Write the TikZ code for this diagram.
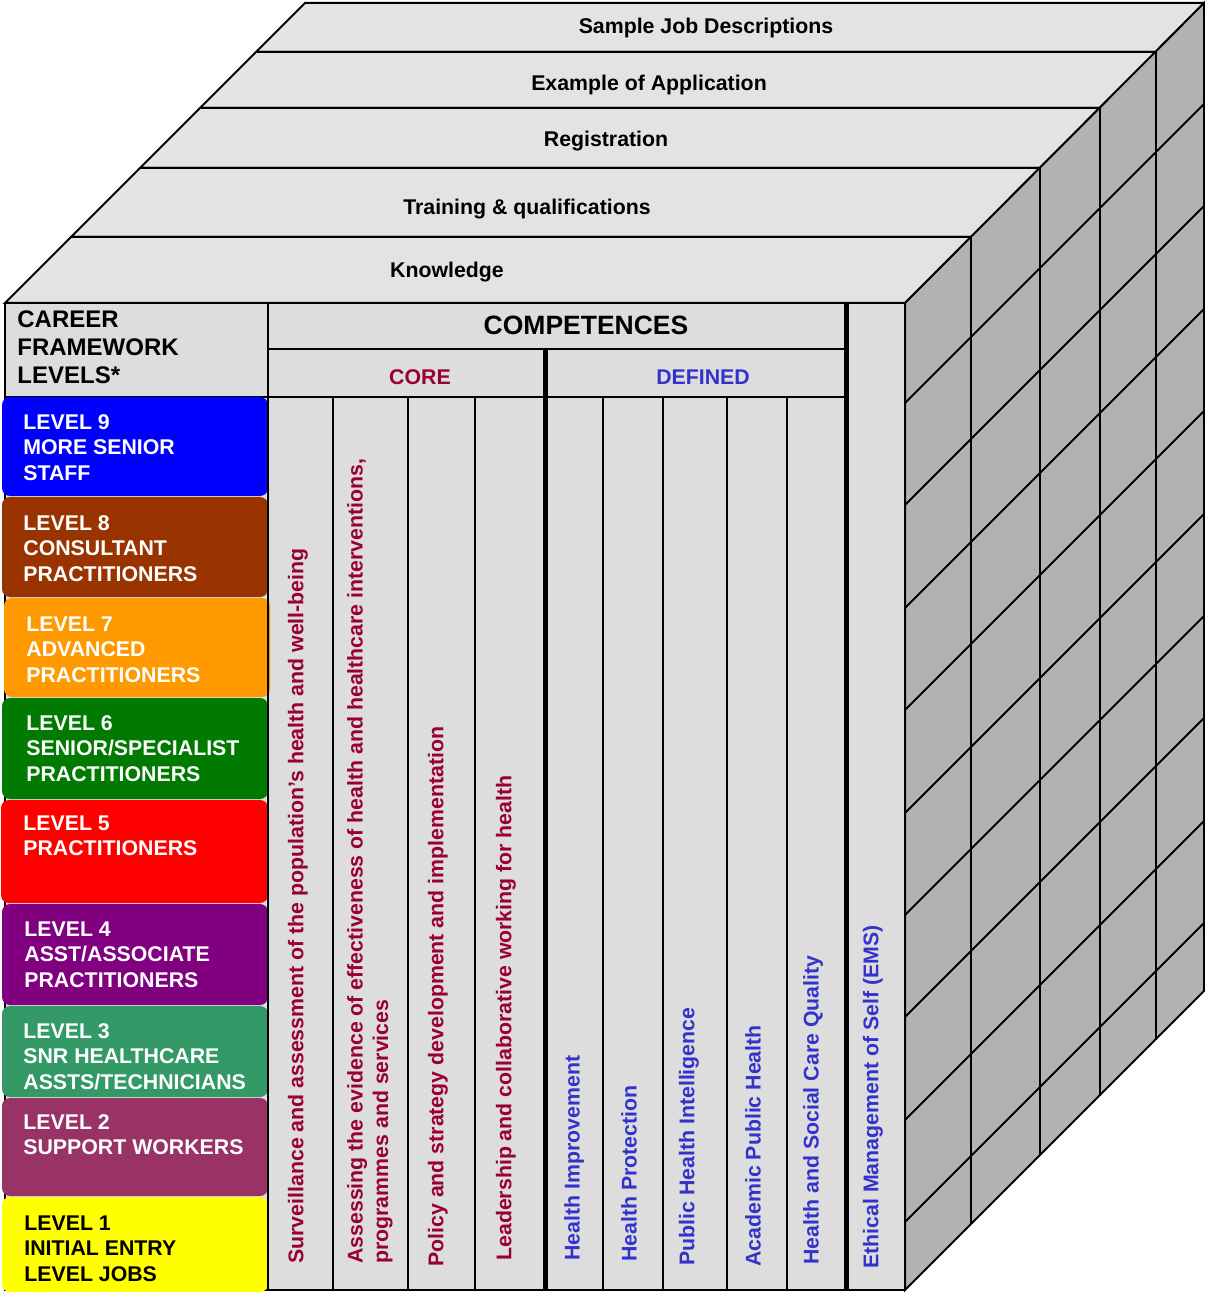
\documentclass[tikz,border=0pt]{standalone}
\usepackage{fontspec}
\setmainfont{Liberation Sans}
\usepackage{xcolor}

\definecolor{topgray}{HTML}{E3E3E3}
\definecolor{frontgray}{HTML}{DDDDDD}
\definecolor{sidegray}{HTML}{B2B2B2}
\definecolor{corered}{HTML}{990033}
\definecolor{defblue}{HTML}{3333CC}
\definecolor{lvlnine}{HTML}{0000FF}
\definecolor{lvleight}{HTML}{993300}
\definecolor{lvlseven}{HTML}{FF9900}
\definecolor{lvlsix}{HTML}{007A00}
\definecolor{lvlfive}{HTML}{FF0000}
\definecolor{lvlfour}{HTML}{800080}
\definecolor{lvlthree}{HTML}{339966}
\definecolor{lvltwo}{HTML}{993366}
\definecolor{lvlone}{HTML}{FFFF00}

\begin{document}
\begin{tikzpicture}[x=0.5pt, y=-0.5pt,
        font=\bfseries\fontsize{10.65}{12.75}\selectfont,
        layer/.style={draw=black, fill=topgray, line width=1pt},
        levelbox/.style={rounded corners=4pt},
        leveltext/.style={anchor=north west, inner sep=0pt, align=left, text=white},
        coltext/.style={rotate=90, anchor=west, inner sep=0pt, align=left},
        thin/.style={line width=1pt},
        thickrule/.style={line width=2.5pt}]
    \useasboundingbox (0,0) rectangle (1204,1293);

    % top of the cube
    \draw[layer] (305,3) -- (1204,3) -- (1156,52) -- (256,52) -- cycle;
    \draw[layer] (256,52) -- (1156,52) -- (1100,108) -- (200,108) -- cycle;
    \draw[layer] (200,108) -- (1100,108) -- (1040,168) -- (140,168) -- cycle;
    \draw[layer] (140,168) -- (1040,168) -- (971,237) -- (71,237) -- cycle;
    \draw[layer] (71,237) -- (971,237) -- (905,303) -- (5,303) -- cycle;

    \node (jobs) at (706,28) {Sample Job Descriptions};
    \node (application) at (649,85) {Example of Application};
    \node (registration) at (606,141) {Registration};
    \node (training) at (527,209) {Training \& qualifications};
    \node (knowledge) at (447,272) {Knowledge};

    % side of the cube
    \draw[thin, fill=sidegray] (905,303) -- (1204,3) -- (1204,991) -- (905,1290) -- cycle;
    \draw[thin] (971,237) -- (971,1224);
    \draw[thin] (1040,168) -- (1040,1155);
    \draw[thin] (1100,108) -- (1100,1095);
    \draw[thin] (1156,52) -- (1156,1039);
    \foreach \y in {403,505,608,710,813,915,1017,1120,1222}
        \draw[thin] (905,\y) -- (1204,\y-299);

    % front of the cube
    \draw[thin, fill=frontgray] (5,303) rectangle (905,1290);
    \draw[thin] (268,349) -- (846,349);
    \draw[thin] (5,397) -- (846,397);
    \foreach \x in {333,408,475,603,663,727,787}
        \draw[thin] (\x,397) -- (\x,1290);
    \draw[thickrule] (545,349) -- (545,1290);
    \draw[thickrule] (846,303) -- (846,1290);

    \node[anchor=north west, inner sep=0pt, align=left, font=\bfseries\fontsize{12}{14}\selectfont]
        (career) at (17,310) {CAREER\\FRAMEWORK\\LEVELS*};
    \node[font=\bfseries\fontsize{13.25}{16}\selectfont] (competences) at (586,325) {COMPETENCES};
    \node[text=corered] (core) at (420,377) {CORE};
    \node[text=defblue] (defined) at (703,377) {DEFINED};

    % career levels
    \fill[lvlnine, levelbox] (2,397) rectangle (268,496);
    \fill[lvleight, levelbox] (2,497) rectangle (268,597);
    \fill[lvlseven, levelbox] (4,598) rectangle (270,697);
    \fill[lvlsix, levelbox] (2,698) rectangle (268,799);
    \fill[lvlfive, levelbox] (1,800) rectangle (268,903);
    \fill[lvlfour, levelbox] (2,904) rectangle (268,1005);
    \fill[lvlthree, levelbox] (2,1006) rectangle (268,1097);
    \fill[lvltwo, levelbox] (2,1098) rectangle (268,1196);
    \fill[lvlone, levelbox] (2,1197) rectangle (268,1292);
    \draw[thin] (268,303) -- (268,1290);

    \node[leveltext] (lnine) at (23,414) {LEVEL 9\\MORE SENIOR\\STAFF};
    \node[leveltext] (leight) at (23,515) {LEVEL 8\\CONSULTANT\\PRACTITIONERS};
    \node[leveltext] (lseven) at (26,616) {LEVEL 7\\ADVANCED\\PRACTITIONERS};
    \node[leveltext] (lsix) at (26,715) {LEVEL 6\\SENIOR/SPECIALIST\\PRACTITIONERS};
    \node[leveltext] (lfive) at (23,815) {LEVEL 5\\PRACTITIONERS};
    \node[leveltext] (lfour) at (24,921) {LEVEL 4\\ASST/ASSOCIATE\\PRACTITIONERS};
    \node[leveltext] (lthree) at (23,1023) {LEVEL 3\\SNR HEALTHCARE\\ASSTS/TECHNICIANS};
    \node[leveltext] (ltwo) at (23,1114) {LEVEL 2\\SUPPORT WORKERS};
    \node[leveltext, text=black] (lone) at (24,1215) {LEVEL 1\\INITIAL ENTRY\\LEVEL JOBS};

    % competence columns
    \node[coltext, text=corered] (surveillance) at (298,1264) {Surveillance and assessment of the population’s health and well-being};
    \node[coltext, text=corered] (assessing) at (370,1264) {Assessing the evidence of effectiveness of health and healthcare interventions,\\programmes and services};
    \node[coltext, text=corered] (policy) at (438,1267) {Policy and strategy development and implementation};
    \node[coltext, text=corered] (leadership) at (506,1261) {Leadership and collaborative working for health};
    \node[coltext, text=defblue] (improvement) at (574,1261) {Health Improvement};
    \node[coltext, text=defblue] (protection) at (629,1262) {Health Protection};
    \node[coltext, text=defblue] (intelligence) at (689,1266) {Public Health Intelligence};
    \node[coltext, text=defblue] (academic) at (753,1267) {Academic Public Health};
    \node[coltext, text=defblue] (quality) at (813,1265) {Health and Social Care Quality};
    \node[coltext, text=defblue] (ems) at (873,1269) {Ethical Management of Self (EMS)};
\end{tikzpicture}
\end{document}
